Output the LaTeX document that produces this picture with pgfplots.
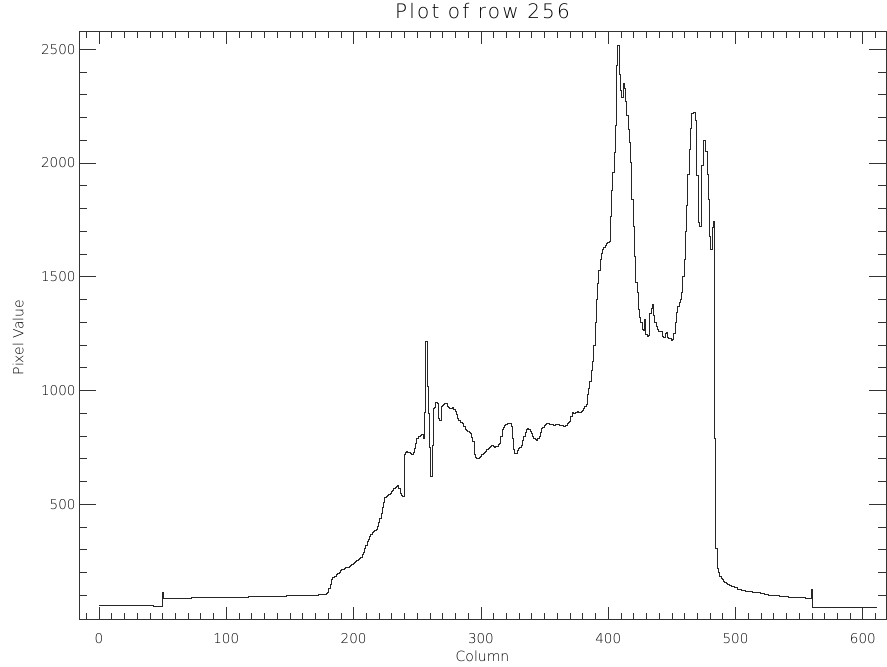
\documentclass[border=0pt]{standalone}
\usepackage{pgfplots}
\pgfplotsset{compat=1.18}
\usepackage{fontspec}
\setmainfont{DejaVu Sans ExtraLight}
\begin{document}
\begin{tikzpicture}
\begin{axis}[
  at={(0,0)}, anchor=south west,
  scale only axis,
  width=807pt, height=588.3pt,
  xmin=-15.7, xmax=618.2,
  ymin=-8, ymax=2578,
  axis line style={line width=0.7pt, black!80},
  xtick={0,100,...,600},
  minor xtick={-10,10,20,30,40,50,60,70,80,90,110,120,130,140,150,160,170,180,190,210,220,230,240,250,260,270,280,290,310,320,330,340,350,360,370,380,390,410,420,430,440,450,460,470,480,490,510,520,530,540,550,560,570,580,590,610},
  ytick={500,1000,1500,2000,2500},
  minor ytick={100,200,300,400,600,700,800,900,1100,1200,1300,1400,1600,1700,1800,1900,2100,2200,2300,2400},
  tick align=inside,
  xtick style={line width=0.7pt, black!80, /pgfplots/major tick length=12.7pt, /pgfplots/minor tick length=6.7pt},
  ytick style={line width=0.7pt, black!80, /pgfplots/major tick length=16.7pt, /pgfplots/minor tick length=8pt},
  scaled ticks=false,
  /pgf/number format/assume math mode=true,
  /pgf/number format/1000 sep={},
  ticklabel style={font=\fontsize{13.5}{16}\selectfont, black},
  xticklabel style={yshift=-10pt},
  title={Plot of row 256},
  title style={at={(axis description cs:0.5,1)}, anchor=base, yshift=7pt, font=\fontsize{20}{24}\selectfont\addfontfeature{LetterSpace=11}},
  xlabel={Column},
  every axis x label/.style={at={(axis description cs:0.5,0)}, anchor=base, yshift=-42pt, font=\fontsize{14}{16}\selectfont},
  ylabel={Pixel Value},
  every axis y label/.style={at={(axis description cs:-0.0688,0.48)}, rotate=90, anchor=base, font=\fontsize{14}{16}\selectfont},
  clip=true,
]
\addplot[const plot mark mid, black!85, line width=0.6pt, mark=none] table {
x y
0 58
5 57
10 57
15 56
20 56
25 55
30 55
35 54
40 54
45 53
49 52
50 115
51 86
55 87
60 87
65 88
70 88
75 89
80 89
85 90
90 91
95 91
100 92
105 92
110 93
115 93
120 94
125 94
130 95
135 96
140 96
145 97
150 98
155 99
160 100
165 101
170 102
175 104
178 106
179 108
180 115
181 130
182 150
183 170
184 178
185 182
186 185
187 190
188 196
189 203
190 210
191 212
192 215
193 218
194 221
195 223
196 225
197 228
198 232
199 236
200 240
201 244
202 248
203 253
204 258
205 262
206 268
207 278
208 290
209 305
210 320
211 335
212 345
213 360
214 370
215 376
216 380
217 384
218 388
219 405
220 420
221 440
222 460
223 485
224 510
225 530
226 535
227 540
228 545
229 550
230 555
231 562
232 570
233 575
234 580
235 585
236 570
237 548
238 540
239 534
240 720
241 728
242 732
243 730
244 728
245 722
246 718
247 730
248 745
249 770
250 790
251 798
252 800
253 805
254 808
255 790
256 905
257 1217
258 1020
259 900
260 750
261 625
262 760
263 920
264 925
265 950
266 945
267 880
268 870
269 930
270 935
271 940
272 945
273 942
274 930
275 925
276 922
277 924
278 925
279 918
280 910
281 895
282 880
283 870
284 862
285 860
286 857
287 843
288 830
289 825
290 822
291 816
292 810
293 795
294 776
295 720
296 708
297 703
298 704
299 705
300 712
301 718
302 724
303 728
304 734
305 740
306 746
307 752
308 756
309 758
310 755
311 752
312 754
313 756
314 762
315 770
316 800
317 830
318 840
319 848
320 852
321 856
322 857
323 855
324 843
325 790
326 740
327 725
328 722
329 735
330 745
331 752
332 760
333 780
334 798
335 815
336 830
337 832
338 828
339 820
340 812
341 800
342 792
343 786
344 783
345 790
346 800
347 818
348 835
349 840
350 845
351 850
352 855
353 857
354 852
355 850
356 850
357 849
358 848
359 850
360 852
361 850
362 848
363 846
364 845
365 843
366 842
367 848
368 855
369 860
370 866
371 885
372 905
373 902
374 900
375 904
376 908
377 906
378 905
379 910
380 915
381 922
382 930
383 940
384 982
385 1010
386 1041
387 1090
388 1129
389 1200
390 1300
391 1400
392 1470
393 1530
394 1575
395 1605
396 1620
397 1630
398 1640
399 1645
400 1651
401 1655
402 1765
403 1880
404 1960
405 2048
406 2165
407 2430
408 2517
409 2390
410 2320
411 2290
412 2350
413 2330
414 2270
415 2210
416 2150
417 2092
418 2004
419 1842
420 1724
421 1592
422 1474
423 1430
424 1357
425 1320
426 1298
427 1269
428 1265
429 1313
430 1247
431 1240
432 1242
433 1340
434 1360
435 1379
436 1330
437 1300
438 1283
439 1270
440 1262
441 1262
442 1260
443 1240
444 1235
445 1250
446 1254
447 1235
448 1230
449 1228
450 1222
451 1225
452 1250
453 1300
454 1342
455 1370
456 1386
457 1400
458 1430
459 1500
460 1577
461 1700
462 1813
463 1950
464 2060
465 2151
466 2220
467 2225
468 2224
469 2187
470 1945
471 1739
472 1724
473 1724
474 1989
475 2099
476 2099
477 2050
478 1950
479 1842
480 1680
481 1620
482 1717
483 1742
484 791
485 306
486 220
487 200
488 185
489 174
490 168
491 162
492 157
493 152
494 149
495 147
496 145
498 140
500 135
503 128
506 122
509 119
512 116
515 114
518 112
521 108
524 105
527 102
530 100
533 98
536 96
540 95
543 93
546 92
550 90
553 89
556 88
559 87
560 127
561 49
565 48
570 48
575 47
580 47
585 47
590 47
595 47
600 47
605 47
611 48
};
\end{axis}
\path[use as bounding box] (-79pt,-46.7pt) rectangle (808pt,618.3pt);
\end{tikzpicture}
\end{document}
